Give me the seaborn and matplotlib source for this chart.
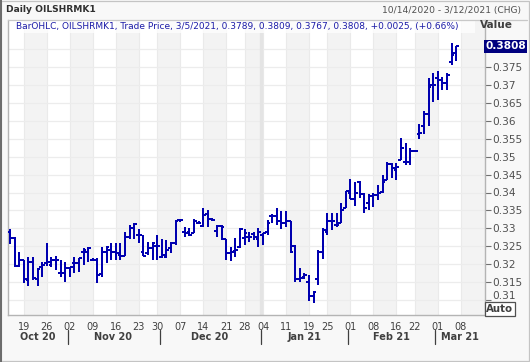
import matplotlib
matplotlib.use("Agg")
import pandas as pd
import matplotlib.pyplot as plt
from matplotlib.patches import Rectangle
from matplotlib.lines import Line2D
from matplotlib.transforms import ScaledTranslation, blended_transform_factory
import seaborn as sns

# trading days, 10/14/2020 - 3/5/2021 (US holidays skipped)
holidays = ["2020-11-26", "2020-12-25", "2021-01-01", "2021-01-18", "2021-02-15"]
days = pd.bdate_range("2020-10-14", "2021-03-05")
days = days[~days.isin(pd.to_datetime(holidays))]

opens = [0.3289, 0.3274, 0.3196, 0.3211, 0.3156, 0.3207, 0.3158, 0.3193, 0.3204, 0.3198,
         0.3212, 0.3174, 0.3174, 0.3188, 0.3204, 0.3202, 0.3235, 0.3235, 0.3212, 0.3211,
         0.3172, 0.3235, 0.3240, 0.3235, 0.3225, 0.3223, 0.3277, 0.3300, 0.3281, 0.3235,
         0.3230, 0.3244, 0.3251, 0.3221, 0.3221, 0.3244, 0.3258, 0.3322, 0.3291, 0.3291,
         0.3288, 0.3314, 0.3306, 0.3340, 0.3325, 0.3293, 0.3306, 0.3269, 0.3232, 0.3237,
         0.3247, 0.3272, 0.3277, 0.3284, 0.3269, 0.3281, 0.3290, 0.3334, 0.3334, 0.3319,
         0.3316, 0.3319, 0.3251, 0.3158, 0.3165, 0.3150, 0.3110, 0.3158, 0.3235, 0.3291,
         0.3319, 0.3309, 0.3314, 0.3356, 0.3398, 0.3381, 0.3430, 0.3395, 0.3370, 0.3390,
         0.3392, 0.3402, 0.3435, 0.3479, 0.3463, 0.3491, 0.3486, 0.3486, 0.3516, 0.3563,
         0.3587, 0.3618, 0.3700, 0.3721, 0.3714, 0.3706, 0.3765, 0.3789]
highs = [0.3297, 0.3277, 0.3235, 0.3212, 0.3219, 0.3219, 0.3188, 0.3207, 0.3260, 0.3219,
         0.3223, 0.3212, 0.3207, 0.3193, 0.3219, 0.3216, 0.3244, 0.3249, 0.3216, 0.3216,
         0.3249, 0.3251, 0.3258, 0.3258, 0.3260, 0.3291, 0.3309, 0.3314, 0.3297, 0.3281,
         0.3263, 0.3263, 0.3281, 0.3270, 0.3267, 0.3262, 0.3323, 0.3326, 0.3305, 0.3300,
         0.3325, 0.3319, 0.3356, 0.3351, 0.3328, 0.3309, 0.3309, 0.3269, 0.3249, 0.3272,
         0.3300, 0.3297, 0.3291, 0.3291, 0.3300, 0.3288, 0.3322, 0.3340, 0.3356, 0.3349,
         0.3347, 0.3320, 0.3254, 0.3188, 0.3176, 0.3170, 0.3125, 0.3240, 0.3300, 0.3342,
         0.3344, 0.3344, 0.3372, 0.3405, 0.3437, 0.3430, 0.3433, 0.3398, 0.3395, 0.3398,
         0.3421, 0.3449, 0.3486, 0.3482, 0.3482, 0.3551, 0.3537, 0.3523, 0.3518, 0.3590,
         0.3628, 0.3719, 0.3733, 0.3738, 0.3724, 0.3733, 0.3817, 0.3809]
lows = [0.3255, 0.3191, 0.3191, 0.3148, 0.3139, 0.3155, 0.3139, 0.3165, 0.3195, 0.3191,
        0.3184, 0.3165, 0.3151, 0.3165, 0.3176, 0.3179, 0.3198, 0.3207, 0.3209, 0.3148,
        0.3163, 0.3204, 0.3211, 0.3212, 0.3211, 0.3222, 0.3270, 0.3270, 0.3258, 0.3222,
        0.3226, 0.3211, 0.3211, 0.3216, 0.3216, 0.3230, 0.3253, 0.3318, 0.3275, 0.3279,
        0.3286, 0.3312, 0.3303, 0.3305, 0.3319, 0.3277, 0.3267, 0.3211, 0.3210, 0.3221,
        0.3245, 0.3253, 0.3263, 0.3267, 0.3249, 0.3253, 0.3282, 0.3314, 0.3309, 0.3298,
        0.3305, 0.3232, 0.3151, 0.3150, 0.3158, 0.3097, 0.3090, 0.3142, 0.3214, 0.3282,
        0.3295, 0.3305, 0.3314, 0.3356, 0.3381, 0.3361, 0.3384, 0.3342, 0.3350, 0.3360,
        0.3379, 0.3398, 0.3435, 0.3440, 0.3435, 0.3491, 0.3477, 0.3477, 0.3514, 0.3550,
        0.3563, 0.3587, 0.3654, 0.3658, 0.3686, 0.3686, 0.3756, 0.3767]
closes = [0.3274, 0.3195, 0.3212, 0.3158, 0.3207, 0.3160, 0.3185, 0.3198, 0.3207, 0.3212,
          0.3212, 0.3174, 0.3188, 0.3191, 0.3202, 0.3216, 0.3238, 0.3246, 0.3212, 0.3170,
          0.3235, 0.3247, 0.3235, 0.3230, 0.3223, 0.3277, 0.3300, 0.3311, 0.3281, 0.3223,
          0.3244, 0.3260, 0.3251, 0.3226, 0.3240, 0.3260, 0.3320, 0.3322, 0.3288, 0.3281,
          0.3319, 0.3314, 0.3337, 0.3325, 0.3323, 0.3306, 0.3303, 0.3232, 0.3235, 0.3240,
          0.3297, 0.3288, 0.3277, 0.3277, 0.3291, 0.3288, 0.3315, 0.3333, 0.3319, 0.3316,
          0.3319, 0.3235, 0.3158, 0.3160, 0.3170, 0.3110, 0.3122, 0.3235, 0.3295, 0.3319,
          0.3319, 0.3309, 0.3351, 0.3403, 0.3381, 0.3398, 0.3395, 0.3356, 0.3390, 0.3392,
          0.3400, 0.3430, 0.3479, 0.3469, 0.3470, 0.3523, 0.3486, 0.3516, 0.3516, 0.3565,
          0.3618, 0.3696, 0.3700, 0.3714, 0.3706, 0.3728, 0.3783, 0.3808]

week_labels = ["19", "26", "02", "09", "16", "23", "30", "07", "14", "21", "28",
               "04", "11", "19", "25", "01", "08", "16", "22", "01", "08"]
month_labels = ["Oct 20", "Nov 20", "Dec 20", "Jan 21", "Feb 21", "Mar 21"]
y_ticks = [0.31, 0.315, 0.32, 0.325, 0.33, 0.335, 0.34, 0.345, 0.35, 0.355,
           0.36, 0.365, 0.37, 0.375, 0.38]
legend_text = ("BarOHLC, OILSHRMK1, Trade Price, 3/5/2021, 0.3789, 0.3809, "
               "0.3767, 0.3808, +0.0025, (+0.66%)")

df = pd.DataFrame({"date": days, "open": opens, "high": highs,
                   "low": lows, "close": closes})
df["pos"] = range(len(df))

# first trading day of each week, plus the next Monday after the data
wk = df["date"].dt.to_period("W")
week_pos = list(df.loc[wk != wk.shift(), "pos"])[1:] + [len(df)]
mo = df["date"].dt.to_period("M")
month_start = list(df.loc[mo != mo.shift(), "pos"])

sns.set_style("white")
plt.rcParams["font.family"] = ["DejaVu Sans"]

W, H = 530, 362
fig = plt.figure(figsize=(W / 100, H / 100), dpi=100, facecolor="#f8f8f8")
ax = fig.add_axes([8 / W, 1 - 315 / H, 477 / W, 295 / H])
ax.set_facecolor("white")

step = 4.6
ax.set_xlim(-2 / step, 475 / step)
ax.set_ylim(0.38 - (315 - 49.3) / 3580, 0.38 + 29.3 / 3580)

# alternating week bands
edges = [-1] + week_pos + [120]
for k in range(len(edges) - 1):
    if k % 2 == 1:
        ax.axvspan(edges[k], edges[k + 1], color="#f3f3f3", lw=0, zorder=0)
for p in week_pos:
    ax.axvline(p, color="#eaeaea", lw=0.8, zorder=0.5)
for v in y_ticks:
    ax.axhline(v, color="#ececec", lw=0.9, zorder=0.5)
# year boundary
ax.axvline(month_start[3] - 0.5, color="#e4e4e4", lw=2.4, zorder=0.6)

# legend strip
ax.add_patch(Rectangle((0, 1 - 13 / 295), 467 / 477, 13 / 295, transform=ax.transAxes,
                       facecolor="white", alpha=0.75, lw=0, zorder=1))
ax.text(8 / 477, 1 - 6.5 / 295, legend_text, transform=ax.transAxes, fontsize=6.45,
        color="#1c1ca8", va="center", ha="left", zorder=5)

# OHLC bars
bar_col = "#0000b0"
lw = 1.3
ax.vlines(df["pos"], df["low"], df["high"], color=bar_col, lw=lw, zorder=3,
          antialiased=False)
ax.hlines(df["open"], df["pos"] - 0.6, df["pos"], color=bar_col, lw=lw, zorder=3,
          antialiased=False)
ax.hlines(df["close"], df["pos"], df["pos"] + 0.6, color=bar_col, lw=lw, zorder=3,
          antialiased=False)

# axes look
for s in ["left", "bottom", "right"]:
    ax.spines[s].set_color("#b4b4b4")
    ax.spines[s].set_linewidth(1.0)
ax.spines["top"].set_visible(False)

ax.yaxis.tick_right()
ax.set_yticks(y_ticks, [f"{v:g}" if v < 0.38 else "" for v in y_ticks])
ax.tick_params(axis="y", length=4, width=0.8, color="#707070", labelsize=7.6,
               labelcolor="#505050", pad=1.5)
ax.set_xticks(week_pos, week_labels)
ax.tick_params(axis="x", length=3, width=0.8, color="#909090", labelsize=7,
               labelcolor="#404040", pad=2)
for lab in ax.get_yticklabels():
    if lab.get_text() == "0.31":
        lab.set_transform(lab.get_transform() + ScaledTranslation(0, 3.5 / 72, fig.dpi_scale_trans))

# month row
bt = blended_transform_factory(ax.transData, ax.transAxes)
xl, xr = ax.get_xlim()
bounds = [xl] + [m - 0.5 for m in month_start[1:]] + [xr]
for i, name in enumerate(month_labels):
    ax.text((bounds[i] + bounds[i + 1]) / 2, -22 / 295, name, transform=bt,
            fontsize=7, fontweight="bold", color="#404040", ha="center", va="center",
            clip_on=False)
for b in bounds[1:-1]:
    ax.add_line(Line2D([b, b], [-15 / 295, -29 / 295], transform=bt, color="#404040",
                       lw=0.9, clip_on=False))

# right side labels
at = blended_transform_factory(ax.transAxes, ax.transData)
ax.text(1.0, closes[-1], f"{closes[-1]:.4f}", transform=at, fontsize=7.6,
        fontweight="bold", color="white", ha="left", va="center", zorder=10,
        clip_on=False,
        bbox=dict(boxstyle="square,pad=0.12", facecolor="#00007f", edgecolor="none"))
fig.text(496 / W, 1 - 25 / H, "Value", fontsize=7.6, fontweight="bold",
         color="#404040", ha="center", va="center")
fig.text(500 / W, 1 - 309 / H, "Auto", fontsize=7.4, fontweight="bold",
         color="#404040", ha="center", va="center",
         bbox=dict(boxstyle="square,pad=0.15", facecolor="white", edgecolor="#505050",
                   lw=0.9))

# header
fig.text(6 / W, 1 - 10 / H, "Daily OILSHRMK1", fontsize=6.6, fontweight="bold",
         color="#303030", ha="left", va="center")
fig.text(521 / W, 1 - 10 / H, "10/14/2020 - 3/12/2021 (CHG)", fontsize=6.6,
         color="#505050", ha="right", va="center")
fig.add_artist(Line2D([8 / W, 527 / W], [1 - 19.5 / H, 1 - 19.5 / H],
                      color="#c8c8c8", lw=0.9))

# outer frame
fig.add_artist(Rectangle((0.5 / W, 1.5 / H), 528.5 / W, 359.5 / H, fill=False,
                         edgecolor="#c4c4c4", lw=0.9))
fig.add_artist(Line2D([1 / W, 1 / W], [0, 1], color="#6a6a6a", lw=1.4))

fig.savefig("out.png", dpi=100, facecolor=fig.get_facecolor())
